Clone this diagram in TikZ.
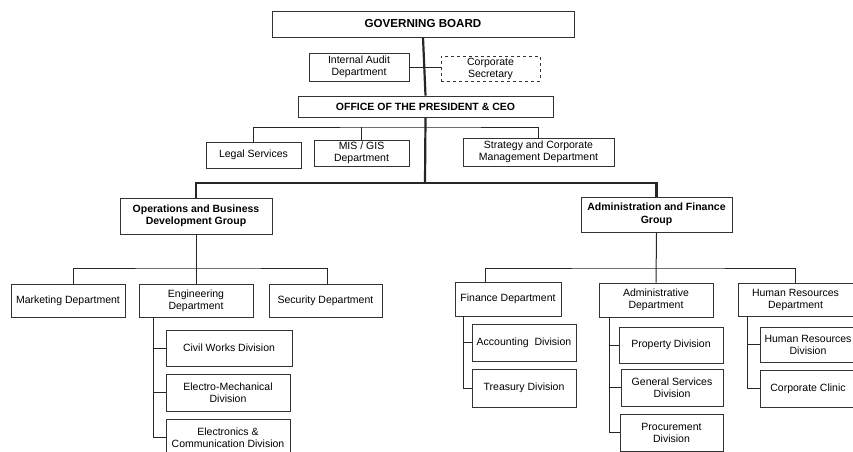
\documentclass[tikz,border=0pt]{standalone}
\usepackage{fontspec}
\setmainfont{Liberation Sans}
\usepackage{tikz}
\usetikzlibrary{calc}

\begin{document}
\begin{tikzpicture}[x=1pt,y=-1pt,
    unit/.style={draw=black!80,line width=0.9pt,align=center,inner sep=1pt,
                 font=\fontsize{10.5}{12}\selectfont},
    head/.style={unit,font=\fontsize{10.5}{12.5}\selectfont\bfseries},
    link/.style={black!85,line width=1pt},
    trunk/.style={black!85,line width=2.2pt}]
            \clip (0,0) rectangle (853,451);
            \fill[white] (0,0) rectangle (853,451);

            % top of the chart
            \node[head,font=\fontsize{11.6}{13}\selectfont\bfseries,minimum width=302,minimum height=26] (board) at (423,24) {GOVERNING BOARD};
            \node[unit,minimum width=100,minimum height=28] (audit) at (359,67) {Internal Audit\\Department};
            \node[unit,dashed,minimum width=99,minimum height=25] (secretary) at (490.5,68.5) {Corporate\\Secretary};
            \node[head,minimum width=255,minimum height=21] (office) at (425.5,106.5) {OFFICE OF THE PRESIDENT \& CEO};

            \node[unit,minimum width=95,minimum height=26] (legal) at (253.5,155) {Legal Services};
            \node[unit,minimum width=95,minimum height=26] (mis) at (361.5,153) {MIS / GIS\\Department};
            \node[unit,minimum width=151,minimum height=28] (strategy) at (538.5,152) {Strategy and Corporate\\Management Department};

            \coordinate (obus) at (425,127);
            \coordinate (bus) at (425,183);

            \draw[trunk] (board.south)--(office.north);
            \draw[trunk] (office.south)--(bus);
            \draw[link] (audit.east)--(audit.east -| secretary.west);
            \draw[link] (legal.north)|-(obus)-|(strategy.north);
            \draw[link] (mis.north)--(mis.north |- obus);

            % groups
            \node[head,minimum width=152,minimum height=36] (ops) at (196,216) {Operations and Business\\Development Group};
            \node[head,minimum width=151,minimum height=35] (admin) at (656.5,214.5) {Administration and Finance\\Group};
            \draw[trunk] (ops.north)|-(bus)-|(admin.north);

            % operations side
            \node[unit,minimum width=114,minimum height=33] (marketing) at (68,300.5) {Marketing Department};
            \node[unit,minimum width=114,minimum height=33] (engineering) at (196,300.5) {Engineering\\Department};
            \node[unit,minimum width=113,minimum height=33] (security) at (325.5,300.5) {Security Department};
            \coordinate (opsbus) at (196,268);
            \draw[link] (ops.south)--(engineering.north);
            \draw[link] ([xshift=5pt]marketing.north)|-(opsbus)-|([xshift=2pt]security.north);

            \node[unit,minimum width=126,minimum height=36] (civil) at (229,348) {Civil Works Division};
            \node[unit,minimum width=124,minimum height=37] (electromech) at (228,392.5) {Electro-Mechanical\\Division};
            \node[unit,minimum width=124,minimum height=37] (electronics) at (228,437.5) {Electronics \&\\Communication Division};
            \coordinate (espine) at ([xshift=15pt]engineering.south west);
            \draw[link] (espine)|-(electronics.west);
            \draw[link] (civil.west)--(civil.west -| espine);
            \draw[link] (electromech.west)--(electromech.west -| espine);

            % administration side
            \node[unit,minimum width=106,minimum height=34] (finance) at (508,299) {Finance Department};
            \node[unit,minimum width=114,minimum height=34] (administrative) at (656,300) {Administrative\\Department};
            \node[unit,minimum width=115,minimum height=33] (hrdept) at (795.5,299.5) {Human Resources\\Department};
            \coordinate (admbus) at (656,268);
            \draw[link] (admin.south)--(administrative.north);
            \draw[link] ([xshift=-23pt]finance.north)|-(admbus)-|(hrdept.north);

            \node[unit,minimum width=104,minimum height=37] (accounting) at (524,342.5) {Accounting~ Division};
            \node[unit,minimum width=104,minimum height=38] (treasury) at (524,388) {Treasury Division};
            \coordinate (fspine) at ([xshift=9pt]finance.south west);
            \draw[link] (fspine)|-(treasury.west);
            \draw[link] (accounting.west)--(accounting.west -| fspine);

            \node[unit,minimum width=104,minimum height=36] (property) at (671,345) {Property Division};
            \node[unit,minimum width=102,minimum height=37] (general) at (672,387.5) {General Services\\Division};
            \node[unit,minimum width=103,minimum height=37] (procurement) at (671.5,432.5) {Procurement\\Division};
            \coordinate (aspine) at ([xshift=11pt]administrative.south west);
            \draw[link] (aspine)|-(procurement.west);
            \draw[link] (property.west)--(property.west -| aspine);
            \draw[link] (general.west)--(general.west -| aspine);

            \node[unit,minimum width=96,minimum height=35] (hrdiv) at (808,344.5) {Human Resources\\Division};
            \node[unit,minimum width=96,minimum height=37] (clinic) at (808,388.5) {Corporate Clinic};
            \coordinate (hspine) at ([xshift=10pt]hrdept.south west);
            \draw[link] (hspine)|-(clinic.west);
            \draw[link] (hrdiv.west)--(hrdiv.west -| hspine);
        \end{tikzpicture}
\end{document}
